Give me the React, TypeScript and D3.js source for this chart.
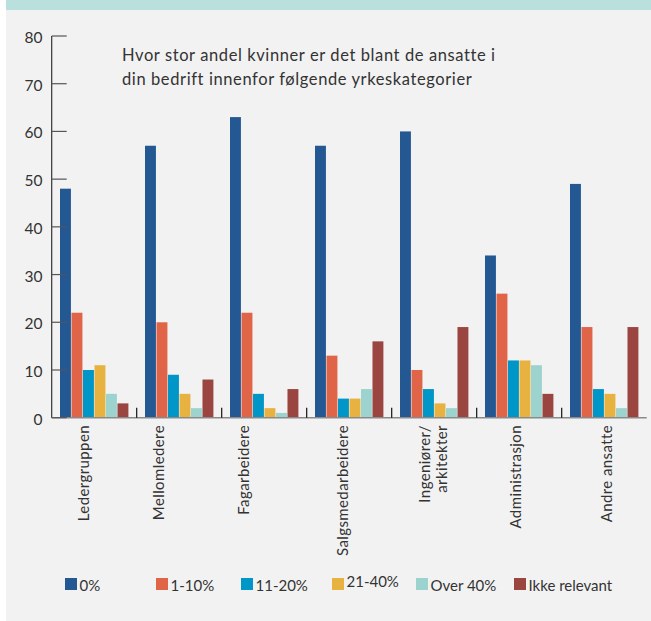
import React from "react";
import * as d3 from "d3";

const categories = [
  "Ledergruppen",
  "Mellomledere",
  "Fagarbeidere",
  "Salgsmedarbeidere",
  "Ingeniører/\narkitekter",
  "Administrasjon",
  "Andre ansatte",
];
const seriesNames = ["0%", "1-10%", "11-20%", "21-40%", "Over 40%", "Ikke relevant"];
const s0 = [48, 57, 63, 57, 60, 34, 49];
const s1 = [22, 20, 22, 13, 10, 26, 19];
const s2 = [10, 9, 5, 4, 6, 12, 6];
const s3 = [11, 5, 2, 4, 3, 12, 5];
const s4 = [5, 2, 1, 6, 2, 11, 2];
const s5 = [3, 8, 6, 16, 19, 5, 19];
const seriesValues = [s0, s1, s2, s3, s4, s5];
const yTicks = [0, 10, 20, 30, 40, 50, 60, 70, 80];
const titleLines = [
  "Hvor stor andel kvinner er det blant de ansatte i",
  "din bedrift innenfor følgende yrkeskategorier",
];

const colors = ["#235893", "#e06548", "#0096c8", "#e7b240", "#9dd3ce", "#9b4541"];
// small horizontal nudges of category labels relative to band centre (layout)
const labelNudge = [-11, -21, -21, -7.5, -2, -4, 1.5];
const legendX = [65, 156, 241, 332, 416, 514];

export default function App() {
  const W = 651;
  const H = 621;
  const x0 = d3.scaleBand<string>().domain(categories).range([51.7, 646.7]).padding(0);
  const x1 = d3
    .scaleBand<string>()
    .domain(seriesNames)
    .range([8.3, 76.7])
    .paddingInner(0.05);
  const y = d3.scaleLinear().domain([0, 80]).range([417.7, 36]);
  const font = "Lato, 'Noto Sans', sans-serif";
  const textColor = "#333333";

  return (
    <svg
      width={W}
      height={H}
      style={{ position: "absolute", left: 0, top: 0 }}
      fontFamily={font}
    >
      <rect x={0} y={0} width={W} height={H} fill="#ffffff" />
      <rect x={6} y={0} width={W - 6} height={H} fill="#f2f2f2" />
      <rect x={6} y={0} width={W - 6} height={10} fill="#b9e0dc" />

      {/* bars */}
      {categories.map((c, ci) => (
        <g key={c} transform={`translate(${x0(c)},0)`}>
          {seriesNames.map((s, si) => {
            const v = seriesValues[si][ci];
            return (
              <rect
                key={s}
                x={x1(s)}
                y={y(v)}
                width={x1.bandwidth()}
                height={y(0) - y(v)}
                fill={colors[si]}
              />
            );
          })}
        </g>
      ))}

      {/* x baseline */}
      <line x1={51.7} x2={646.7} y1={y(0)} y2={y(0)} stroke="#8a8a8a" strokeWidth={1.5} />
      {categories.slice(1).map((c) => (
        <line
          key={c}
          x1={x0(c)}
          x2={x0(c)}
          y1={y(0)}
          y2={y(0) - 10}
          stroke="#111"
          strokeWidth={1.2}
        />
      ))}

      {/* y axis */}
      <line x1={51.7} x2={51.7} y1={y(80)} y2={y(0)} stroke="#333" strokeWidth={1.2} />
      {yTicks.map((t) => (
        <g key={t}>
          <line x1={51.7} x2={66.7} y1={y(t)} y2={y(t)} stroke="#555" strokeWidth={1.2} />
          <text
            x={42.5}
            y={y(t) + 1}
            textAnchor="end"
            dominantBaseline="central"
            fontSize={15.5}
            fill={textColor}
          >
            {t}
          </text>
        </g>
      ))}

      {/* title */}
      {titleLines.map((l, i) => (
        <text
          key={i}
          x={122}
          y={61 + i * 24}
          fontSize={16.5}
          letterSpacing={0.6}
          fill={textColor}
        >
          {l}
        </text>
      ))}

      {/* category labels */}
      {categories.map((c, ci) => {
        const lines = c.split("\n");
        const cx = (x0(c) as number) + x0.bandwidth() / 2 + labelNudge[ci];
        return lines.map((ln, li) => {
          const lx = cx + (li - (lines.length - 1) / 2) * 16.7;
          return (
            <text
              key={c + li}
              transform={`translate(${lx},425) rotate(-90)`}
              textAnchor="end"
              dominantBaseline="central"
              fontSize={15}
              letterSpacing={0.4}
              fill={textColor}
            >
              {ln}
            </text>
          );
        });
      })}

      {/* legend */}
      {seriesNames.map((s, si) => (
        <g key={s}>
          <rect x={legendX[si]} y={578} width={12} height={12} fill={colors[si]} />
          <text
            x={legendX[si] + 14.5}
            y={si === 3 ? 580.5 : 585}
            dominantBaseline="central"
            fontSize={15}
            fill={textColor}
          >
            {s}
          </text>
        </g>
      ))}
    </svg>
  );
}
